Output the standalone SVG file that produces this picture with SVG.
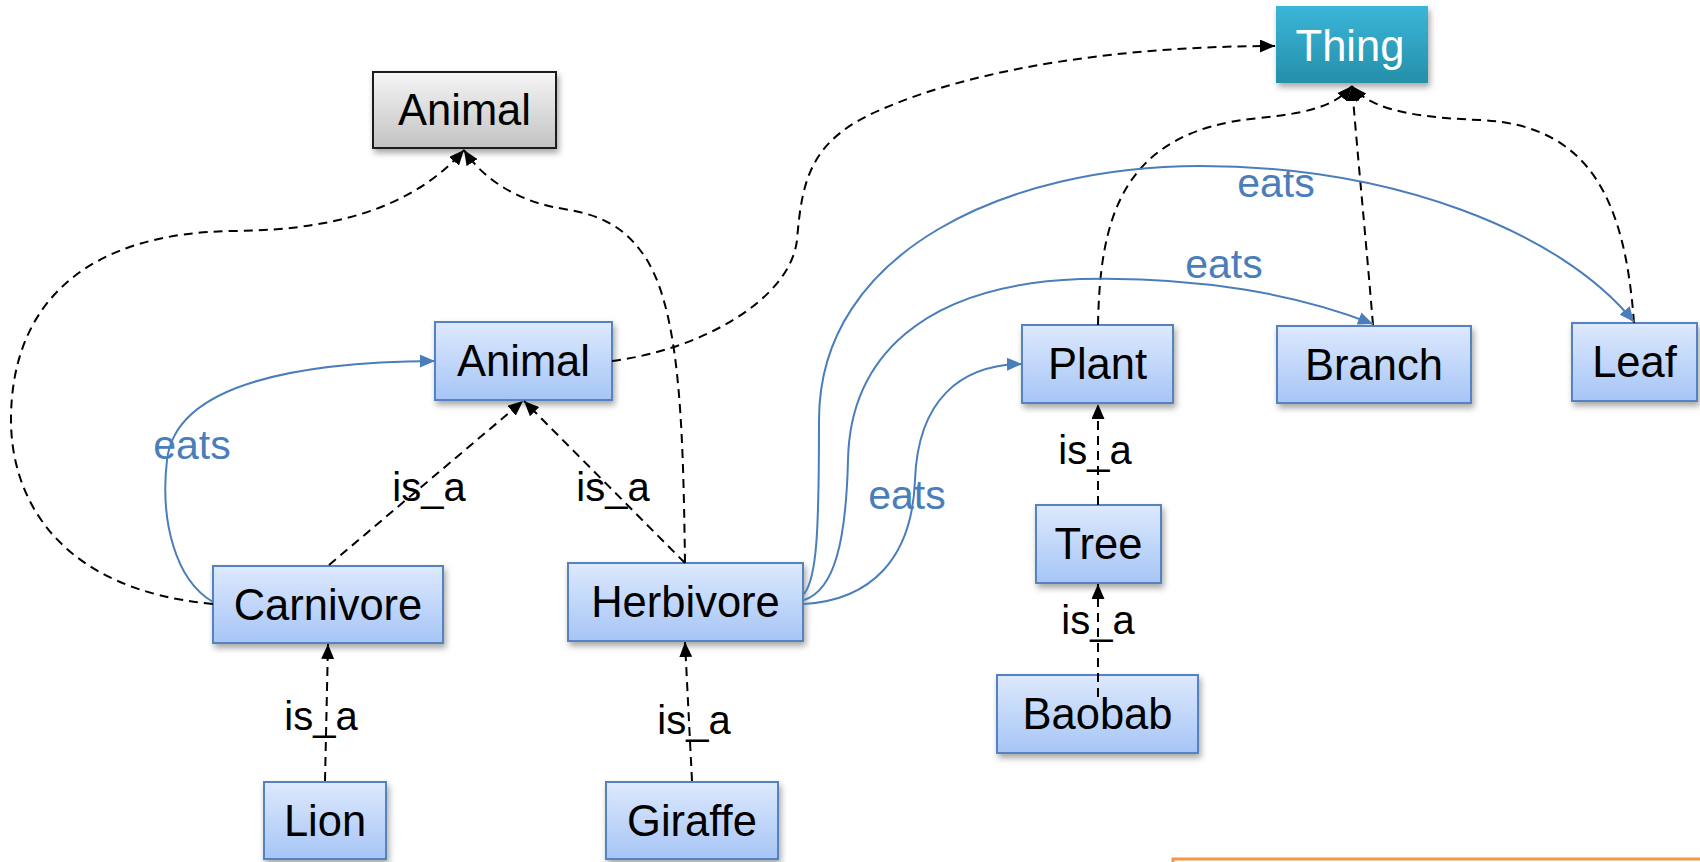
<svg xmlns="http://www.w3.org/2000/svg" width="1700" height="862" viewBox="0 0 1700 862">
  <defs>
    <linearGradient id="gBlue" x1="0" y1="0" x2="0" y2="1">
      <stop offset="0" stop-color="#dde9fd"/>
      <stop offset="1" stop-color="#a6c5f6"/>
    </linearGradient>
    <linearGradient id="gGray" x1="0" y1="0" x2="0" y2="1">
      <stop offset="0" stop-color="#f5f5f5"/>
      <stop offset="1" stop-color="#c3c3c3"/>
    </linearGradient>
    <linearGradient id="gTeal" x1="0" y1="0" x2="0" y2="1">
      <stop offset="0" stop-color="#3bb6d9"/>
      <stop offset="1" stop-color="#258fa9"/>
    </linearGradient>
    <filter id="shadow" x="-20%" y="-20%" width="140%" height="160%">
      <feDropShadow dx="2" dy="4" stdDeviation="3" flood-color="#000" flood-opacity="0.35"/>
    </filter>
    <marker id="arrowBlack" viewBox="0 0 15 13" refX="15" refY="6.5" markerWidth="15" markerHeight="13" markerUnits="userSpaceOnUse" orient="auto">
      <path d="M0,0 L15,6.5 L0,13 z" fill="#000"/>
    </marker>
    <marker id="arrowBlue" viewBox="0 0 15 13" refX="15" refY="6.5" markerWidth="15" markerHeight="13" markerUnits="userSpaceOnUse" orient="auto">
      <path d="M0,0 L15,6.5 L0,13 z" fill="#4a7ebb"/>
    </marker>
    <style>
      .box { fill: url(#gBlue); stroke: #5483c0; stroke-width: 2; filter: url(#shadow); }
      .gray { fill: url(#gGray); stroke: #1a1a1a; stroke-width: 2; filter: url(#shadow); }
      .teal { fill: url(#gTeal); stroke: none; filter: url(#shadow); }
      .lbl { font-family: "Liberation Sans", Arial, sans-serif; font-size: 43.5px; fill: #000; text-anchor: middle; }
      .white { fill: #fff; }
      .isa { fill: none; stroke: #000; stroke-width: 2; stroke-dasharray: 9 6; marker-end: url(#arrowBlack); }
      .eats { fill: none; stroke: #4a7ebb; stroke-width: 2; marker-end: url(#arrowBlue); }
      .elbl { font-family: "Liberation Sans", Arial, sans-serif; font-size: 40px; text-anchor: middle; fill: #000; }
      .eatlbl { font-family: "Liberation Sans", Arial, sans-serif; font-size: 41px; text-anchor: middle; fill: #4a7ebb; }
    </style>
  </defs>

  <rect width="1700" height="862" fill="#fff"/>

  <!-- partial box at the lower right edge -->
  <rect x="1173" y="859" width="600" height="40" fill="#fff" stroke="#f79646" stroke-width="3"/>

  <!-- nodes -->
  <g id="node-animal-top">
    <rect class="gray" x="373" y="72" width="183" height="76"/>
    <text class="lbl" x="464.5" y="125">Animal</text>
  </g>
  <g id="node-thing">
    <rect class="teal" x="1276" y="6" width="152" height="77"/>
    <text class="lbl white" x="1350" y="61">Thing</text>
  </g>
  <g id="node-animal">
    <rect class="box" x="435" y="322" width="177" height="78"/>
    <text class="lbl" x="523.5" y="376">Animal</text>
  </g>
  <g id="node-carnivore">
    <rect class="box" x="213" y="566" width="230" height="77"/>
    <text class="lbl" x="328" y="620">Carnivore</text>
  </g>
  <g id="node-herbivore">
    <rect class="box" x="568" y="563" width="235" height="78"/>
    <text class="lbl" x="685.5" y="617">Herbivore</text>
  </g>
  <g id="node-plant">
    <rect class="box" x="1022" y="325" width="151" height="78"/>
    <text class="lbl" x="1097.5" y="379">Plant</text>
  </g>
  <g id="node-branch">
    <rect class="box" x="1277" y="326" width="194" height="77"/>
    <text class="lbl" x="1374" y="380">Branch</text>
  </g>
  <g id="node-leaf">
    <rect class="box" x="1572" y="323" width="125" height="78"/>
    <text class="lbl" x="1634.5" y="377">Leaf</text>
  </g>
  <g id="node-tree">
    <rect class="box" x="1036" y="505" width="125" height="78"/>
    <text class="lbl" x="1098.5" y="559">Tree</text>
  </g>
  <g id="node-baobab">
    <rect class="box" x="997" y="675" width="201" height="78"/>
    <text class="lbl" x="1097.5" y="729">Baobab</text>
  </g>
  <g id="node-lion">
    <rect class="box" x="264" y="782" width="122" height="77"/>
    <text class="lbl" x="325" y="836">Lion</text>
  </g>
  <g id="node-giraffe">
    <rect class="box" x="606" y="782" width="172" height="77"/>
    <text class="lbl" x="692" y="836">Giraffe</text>
  </g>

  <!-- connectors -->
  <g id="connectors">
    <!-- subclass links -->
    <path class="isa" d="M329,565 L523,401"/>
    <path class="isa" d="M685,563 L524,401"/>
    <path class="isa" d="M325,781 L328,644"/>
    <path class="isa" d="M692,781 L685,642"/>
    <path class="isa" d="M1098,505 L1098,404"/>
    <path class="isa" d="M1098,697 L1098,584"/>

    <!-- links to the upper Animal -->
    <path class="isa" d="M213,604 C 60,590 11,500 11,420 C 11,300 90,232 235,231 C 350,230 420,200 464,150"/>
    <path class="isa" d="M685,563 C 683,420 680,300 640,250 C 610,210 570,212 545,205 C 510,196 480,175 464,150"/>

    <!-- links to Thing -->
    <path class="isa" d="M612,361 C 700,350 790,300 797,240 C 802,180 810,140 880,110 C 980,66 1130,46 1275,46"/>
    <path class="isa" d="M1098,325 C 1100,220 1120,130 1260,118 C 1320,112 1338,102 1352,86"/>
    <path class="isa" d="M1373,325 C 1366,240 1358,160 1352,86"/>
    <path class="isa" d="M1634,323 C 1625,200 1590,125 1480,120 C 1400,117 1368,106 1352,86"/>

    <!-- eats links -->
    <path class="eats" d="M213,602 C 175,580 160,520 167,460 C 175,390 280,362 435,361"/>
    <path class="eats" d="M804,604 C 870,600 912,560 915,480 C 918,400 960,365 1022,364"/>
    <path class="eats" d="M804,600 C 835,590 846,540 848,460 C 850,360 920,285 1080,279 C 1200,276 1300,295 1373,324"/>
    <path class="eats" d="M804,594 C 817,578 819,530 819,420 C 819,250 1010,166 1200,166 C 1390,166 1560,230 1634,322"/>

    <!-- labels -->
    <text class="elbl" x="429" y="501">is_a</text>
    <text class="elbl" x="613" y="501">is_a</text>
    <text class="elbl" x="321" y="730">is_a</text>
    <text class="elbl" x="694" y="734">is_a</text>
    <text class="elbl" x="1095" y="464">is_a</text>
    <text class="elbl" x="1098" y="634">is_a</text>

    <text class="eatlbl" x="192" y="459">eats</text>
    <text class="eatlbl" x="907" y="509">eats</text>
    <text class="eatlbl" x="1224" y="278">eats</text>
    <text class="eatlbl" x="1276" y="197">eats</text>
  </g>
</svg>
